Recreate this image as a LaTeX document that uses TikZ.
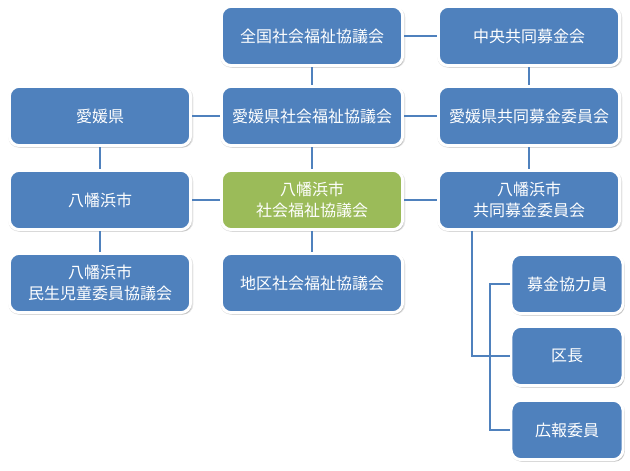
\documentclass[tikz,border=0pt]{standalone}
\usepackage{fontspec}
\newfontfamily\jp{Noto Sans CJK JP}
\usetikzlibrary{shadows}
\definecolor{obl}{HTML}{4F81BD}
\definecolor{ogr}{HTML}{9BBB59}
\begin{document}
\begin{tikzpicture}[x=0.75pt,y=-0.75pt,
  box/.style={rounded corners=7.5pt, fill=obl, draw=white, line width=2.2pt,
    text=white, font=\jp\fontsize{12}{16}\selectfont, align=center,
    minimum width=136pt, minimum height=44.5pt, inner sep=0pt,
    general shadow={shadow xshift=0.6pt, shadow yshift=-1pt, shadow scale=1.02, fill=black!30, opacity=0.35},
    drop shadow={shadow xshift=1pt, shadow yshift=-1.5pt, fill=black!45, opacity=0.4}},
  sbox/.style={box, minimum width=84pt},
  gbox/.style={box, fill=ogr},
  link/.style={draw=obl, line width=2.2pt}
]
\useasboundingbox (0,0) rectangle (630,470);
\coordinate (t1) at (472,0);
\coordinate (b1) at (490,0);
\node[box] (zs) at (312,36) {全国社会福祉協議会};
\node[box] (cm) at (529,36) {中央共同募金会};
\node[box] (ek) at (100,116) {愛媛県};
\node[box] (es) at (312,116) {愛媛県社会福祉協議会};
\node[box] (ec) at (529,116) {愛媛県共同募金委員会};
\node[box] (yc) at (100,200) {八幡浜市};
\node[gbox] (ys) at (312,200) {八幡浜市\\社会福祉協議会};
\node[box] (yk) at (529,200) {八幡浜市\\共同募金委員会};
\node[box] (ym) at (100,283) {八幡浜市\\民生児童委員協議会};
\node[box] (ch) at (312,283) {地区社会福祉協議会};
\node[sbox] (bk) at (567,284) {募金協力員};
\node[sbox] (ku) at (567,356) {区長};
\node[sbox] (kh) at (567,430) {広報委員};
\begin{scope}[link]
\draw (zs) -- (cm);
\draw (zs) -- (es);
\draw (cm) -- (ec);
\draw (ek) -- (es);
\draw (es) -- (ec);
\draw (ek) -- (yc);
\draw (yc) -- (ym);
\draw (yc) -- (ys);
\draw (es) -- (ys);
\draw (ys) -- (ch);
\draw (ys) -- (yk);
\draw (ec) -- (yk);
\draw (yk.south -| t1) -- (t1 |- ku.west) -- (ku.west);
\draw (bk.west) -- (b1 |- bk.west) -- (b1 |- kh.west) -- (kh.west);
\end{scope}
\end{tikzpicture}
\end{document}
